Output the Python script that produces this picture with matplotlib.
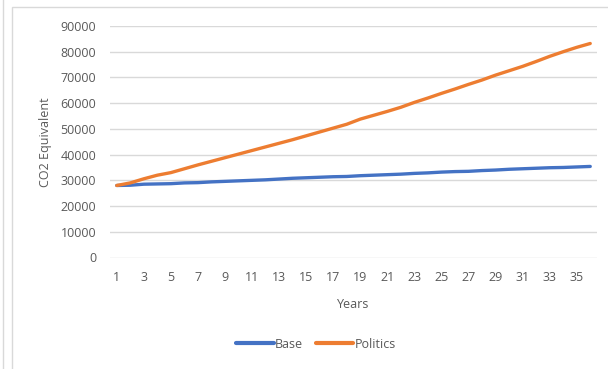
import matplotlib
matplotlib.use("Agg")
import matplotlib.pyplot as plt
from matplotlib.lines import Line2D
from matplotlib.patches import Rectangle

years = list(range(1, 37))
base = [28000, 28100, 28500, 28600, 28700, 29000, 29100, 29400, 29600, 29800,
        30000, 30200, 30500, 30800, 31000, 31200, 31400, 31500, 31800, 32000,
        32200, 32400, 32700, 32900, 33200, 33400, 33500, 33800, 34000, 34300,
        34500, 34700, 34900, 35000, 35200, 35400]
politics = [28000, 29000, 30600, 32000, 33000, 34500, 36000, 37400, 38800, 40200,
            41600, 43000, 44400, 45800, 47300, 48800, 50300, 51800, 53800, 55300,
            56800, 58400, 60300, 62000, 63800, 65500, 67300, 69000, 70900, 72600,
            74300, 76200, 78200, 80000, 81700, 83200]
series_names = ["Base", "Politics"]
y_ticks = list(range(0, 90001, 10000))
x_ticks = list(range(1, 36, 2))

W, H = 608, 369
fig = plt.figure(figsize=(W / 100, H / 100), dpi=100)
fig.patch.set_facecolor("white")

font = "Open Sans"
fs = 9
txt = "#595959"
grid = "#d9d9d9"
blue = "#4472C4"
orange = "#ED7D31"

# frame around the chart area
fig.add_artist(Line2D([3 / W, 3 / W], [0, 1], color=grid, lw=1.0,
                      transform=fig.transFigure))
fig.add_artist(Rectangle((11.5 / W, -0.1), 1.0, 1 - 7.5 / H + 0.1,
                         fill=False, edgecolor=grid, lw=1.0,
                         transform=fig.transFigure))

ax = fig.add_axes([110 / W, 1 - 257.5 / H, (597 - 110) / W, (257.5 - 26) / H])
ax.set_facecolor("none")
ax.plot(years, base, color=blue, lw=2.4, solid_capstyle="round", label=series_names[0])
ax.plot(years, politics, color=orange, lw=2.4, solid_capstyle="round", label=series_names[1])

ax.set_xlim(0.5, 36.5)
ax.set_ylim(0, 90000)
ax.set_yticks(y_ticks)
ax.set_yticklabels([str(v) for v in y_ticks])
ax.set_xticks(x_ticks)
ax.set_xticklabels([str(v) for v in x_ticks])
ax.grid(axis="y", color=grid, lw=1.0)
ax.set_axisbelow(True)
for s in ax.spines.values():
    s.set_visible(False)
ax.tick_params(axis="both", length=0, labelsize=fs, labelcolor=txt)
ax.tick_params(axis="y", pad=10)
ax.tick_params(axis="x", pad=9.5)
for lab in ax.get_xticklabels() + ax.get_yticklabels():
    lab.set_fontfamily(font)

ax.set_xlabel("Years", fontsize=fs, color=txt, fontfamily=font, labelpad=10)
ax.set_ylabel("CO2 Equivalent", fontsize=fs, color=txt, fontfamily=font, labelpad=6)

leg = fig.legend(loc="center", bbox_to_anchor=(316 / W, 1 - 344 / H), ncol=2,
                 frameon=False, prop={"family": font, "size": fs},
                 handlelength=3.0, handletextpad=0.1, columnspacing=1.0)
for line in leg.get_lines():
    line.set_linewidth(3.0)
for t in leg.get_texts():
    t.set_color(txt)

fig.savefig("out.png", dpi=100)
